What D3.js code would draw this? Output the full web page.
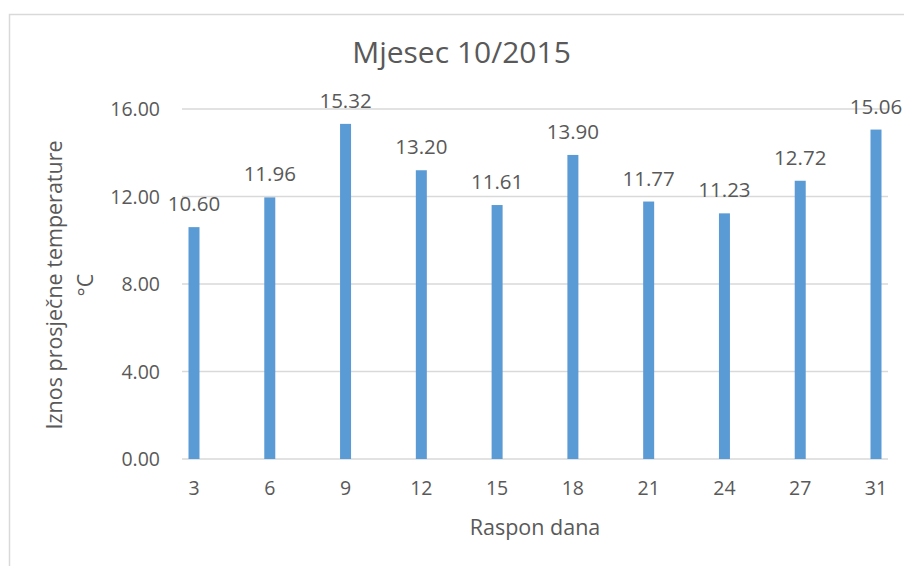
<!DOCTYPE html>
<html><head><meta charset="utf-8">
<script src="https://cdn.jsdelivr.net/npm/d3@7"></script>
<style>body{margin:0;background:#fff}text{font-family:"Open Sans",sans-serif;fill:#595959}</style>
</head><body><svg id="c" width="904" height="566"></svg>
<script>
const categories = ["3","6","9","12","15","18","21","24","27","31"];
const values = [10.60, 11.96, 15.32, 13.20, 11.61, 13.90, 11.77, 11.23, 12.72, 15.06];
const yTicks = [0, 4, 8, 12, 16];
const chartTitle = "Mjesec 10/2015";
const xTitle = "Raspon dana";
const yTitle = ["Iznos prosječne temperature", "°C"];

(function(){
const svg = d3.select("#c");
svg.append("rect").attr("x",9.5).attr("y",14.5).attr("width",1000).attr("height",1000)
  .attr("fill","none").attr("stroke","#d9d9d9").attr("stroke-width",1.5);

const pL = 182, pR = 888, pT = 109, pB = 459;
const y = d3.scaleLinear().domain([0,16]).range([pB, pT]);
const x = d3.scalePoint().domain(categories).range([194, 876]);

svg.append("g").selectAll("line").data(yTicks).join("line")
  .attr("x1",pL).attr("x2",pR).attr("y1",d=>y(d)).attr("y2",d=>y(d))
  .attr("stroke","#d9d9d9").attr("stroke-width",1.3);

svg.append("g").selectAll("text").data(yTicks).join("text")
  .attr("x",160).attr("y",d=>y(d)+7).attr("text-anchor","end")
  .style("font-size","19.5px").text(d=>d.toFixed(2));

const bw = 11;
svg.append("g").selectAll("rect").data(values).join("rect")
  .attr("x",(d,i)=>x(categories[i])-bw/2).attr("width",bw)
  .attr("y",d=>y(d)).attr("height",d=>pB-y(d)).attr("fill","#5b9bd5");

svg.append("g").selectAll("text").data(values).join("text")
  .attr("x",(d,i)=>x(categories[i])).attr("y",d=>y(d)-16).attr("text-anchor","middle")
  .style("font-size","20.5px").text(d=>d.toFixed(2));

svg.append("g").selectAll("text").data(categories).join("text")
  .attr("x",d=>x(d)).attr("y",495).attr("text-anchor","middle")
  .style("font-size","19.5px").text(d=>d);

svg.append("text").attr("x",461.5).attr("y",63).attr("text-anchor","middle")
  .style("font-size","30px").text(chartTitle);
svg.append("text").attr("x",535).attr("y",535).attr("text-anchor","middle")
  .style("font-size","21.5px").text(xTitle);
const yt = svg.append("text").attr("transform","translate(62,285) rotate(-90)")
  .attr("text-anchor","middle").style("font-size","21.5px");
yt.append("tspan").attr("x",0).attr("dy",0).text(yTitle[0]);
yt.append("tspan").attr("x",0).attr("dy",31).text(yTitle[1]);
})();
</script></body></html>
